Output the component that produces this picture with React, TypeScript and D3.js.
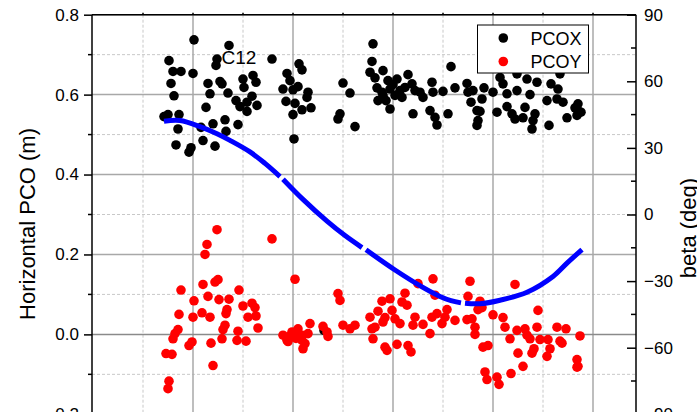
import React, { useEffect, useRef } from "react";
import * as d3 from "d3";

// PCOX samples: [time, pco (m)]
const pcoxPoints: [number, number][] = [
  [1, 0.737], [36, 0.723], [-24, 0.685], [24, 0.689], [23, 0.673], [79, 0.689], [-20, 0.658], [-12, 0.658],
  [0, 0.653], [-22, 0.628], [15, 0.628], [27, 0.633], [29, 0.627], [35, 0.604], [17, 0.602], [-19, 0.597],
  [50, 0.639], [60, 0.648], [63, 0.631], [51, 0.618], [59, 0.596], [43, 0.585], [47, 0.57], [54, 0.581],
  [64, 0.573], [54, 0.558], [13, 0.568], [-25, 0.55], [-29, 0.545], [-14, 0.55], [32, 0.537], [20, 0.527],
  [8, 0.518], [33, 0.508], [45, 0.525], [-15, 0.514], [10, 0.485], [-17, 0.474], [-2, 0.467], [22, 0.471],
  [-4, 0.456], [94, 0.653], [97, 0.635], [90, 0.614], [100, 0.612], [93, 0.583], [102, 0.578], [100, 0.55],
  [101, 0.489], [106, 0.677], [180, 0.727], [179, 0.683], [190, 0.66], [177, 0.656], [182, 0.642], [109, 0.662],
  [150, 0.629], [157, 0.604], [145, 0.539], [147, 0.552], [162, 0.52], [105, 0.62], [115, 0.606], [114, 0.593],
  [109, 0.562], [118, 0.567], [184, 0.617], [195, 0.635], [204, 0.639], [215, 0.65], [219, 0.627], [189, 0.606],
  [197, 0.614], [202, 0.598], [209, 0.593], [185, 0.585], [190, 0.598], [197, 0.564], [212, 0.618], [222, 0.61],
  [227, 0.606], [230, 0.593], [239, 0.631], [240, 0.606], [250, 0.608], [220, 0.552], [237, 0.56], [242, 0.543],
  [244, 0.524], [255, 0.552], [258, 0.67], [200, 0.625], [207, 0.61], [193, 0.585], [262, 0.617], [274, 0.628],
  [275, 0.606], [278, 0.581], [280, 0.61], [284, 0.56], [287, 0.558], [285, 0.535], [284, 0.523], [289, 0.589],
  [291, 0.617], [300, 0.606], [304, 0.556], [307, 0.643], [310, 0.627], [314, 0.602], [314, 0.57], [319, 0.552],
  [322, 0.539], [324, 0.61], [324, 0.652], [334, 0.639], [332, 0.568], [330, 0.542], [337, 0.6], [344, 0.631],
  [342, 0.552], [340, 0.535], [339, 0.514], [356, 0.523], [354, 0.585], [358, 0.627], [367, 0.652], [365, 0.614],
  [364, 0.589], [370, 0.581], [374, 0.542], [385, 0.577], [385, 0.56], [388, 0.556], [384, 0.548], [382, 0.567],
  [131, 0.01],
];

// PCOY samples: [time, pco (m)]
const pcoyPoints: [number, number][] = [
  [24, 0.262], [14, 0.225], [12, 0.2], [79, 0.239], [102, 0.138], [25, 0.137], [22, 0.131], [10, 0.125],
  [-12, 0.111], [46, 0.111], [15, 0.095], [1, 0.084], [26, 0.087], [36, 0.088], [59, 0.078], [50, 0.071],
  [62, 0.067], [34, 0.062], [33, 0.052], [-14, 0.05], [9, 0.054], [0, 0.043], [17, 0.043], [55, 0.043],
  [63, 0.046], [32, 0.023], [65, 0.016], [30, 0.012], [45, 0.008], [-15, 0.012], [-18, 0.002], [-20, -0.011],
  [29, -0.011], [44, -0.015], [53, -0.017], [-1, -0.019], [-4, -0.028], [18, -0.022], [-27, -0.048], [-21, -0.05],
  [20, -0.078], [-24, -0.117], [-25, -0.136], [90, -0.002], [94, -0.015], [102, 0.002], [99, 0.006], [105, 0.014],
  [109, -0.002], [112, -0.023], [110, -0.036], [117, 0.027], [97, -0.004], [95, -0.018], [103, -0.01], [130, 0.02],
  [134, 0.006], [135, -0.005], [145, 0.102], [147, 0.085], [150, 0.023], [157, 0.014], [162, 0.023], [109, -0.015],
  [115, 0.002], [240, 0.139], [225, 0.127], [212, 0.103], [209, 0.081], [214, 0.073], [197, 0.089], [189, 0.083],
  [185, 0.058], [199, 0.06], [177, 0.043], [192, 0.042], [202, 0.039], [207, 0.027], [182, 0.018], [179, 0.014],
  [190, 0.031], [180, -0.011], [192, -0.032], [194, -0.04], [204, -0.025], [215, -0.028], [218, -0.044], [222, 0.043],
  [220, 0.023], [230, 0.025], [237, 0.002], [239, 0.043], [244, 0.052], [249, 0.027], [254, 0.062], [252, 0.043],
  [242, 0.098], [277, 0.133], [275, 0.095], [287, 0.083], [322, 0.125], [262, 0.035], [274, 0.037], [279, 0.039],
  [285, 0.062], [289, 0.067], [300, 0.049], [282, 0.018], [282, 0], [310, 0.042], [312, 0.018], [324, 0.01],
  [317, -0.011], [332, 0.014], [334, -0.002], [337, -0.011], [345, 0.06], [344, 0.018], [347, -0.013], [355, -0.013],
  [364, 0.018], [373, 0.014], [367, -0.017], [369, -0.022], [387, -0.004], [290, -0.032], [295, -0.028], [325, -0.047],
  [339, -0.047], [341, -0.036], [357, -0.036], [354, -0.055], [384, -0.063], [384, -0.082], [385, -0.08], [330, -0.08],
  [318, -0.098], [292, -0.094], [294, -0.113], [304, -0.107], [306, -0.125],
];

// beta angle (deg), null marks a data gap
const betaTime = [-29, -13, 7, 24, 37, 57, 72, 87, 88, 90, 110, 134, 152, 169, 171, 173, 202, 229, 247, 258, 268, 270, 272, 287, 307, 334, 360, 374, 389];
const betaDeg: (number | null)[] = [42.0, 42.3, 39.6, 36.4, 33.4, 28.2, 23.0, 17.1, null, 15.9, 6.8, -3.0, -9.5, -14.9, null, -15.9, -25.0, -32.6, -36.9, -38.8, -39.8, null, -40.0, -40.2, -38.6, -35.0, -27.9, -21.9, -15.8];

const leftTicks = [-0.2, 0.0, 0.2, 0.4, 0.6, 0.8];
const leftMinor = [-0.1, 0.1, 0.3, 0.5, 0.7];
const rightTicks = [-90, -60, -30, 0, 30, 60, 90];
const rightMinor = [-75, -45, -15, 15, 45, 75];
const timeTicks = [0, 100, 200, 300, 400];
const timeMinor = [-50, 50, 150, 250, 350];

const seriesNames = ["PCOX", "PCOY"];
const seriesColors = ["#000000", "#ff0000"];

export default function App() {
  const svgRef = useRef<SVGSVGElement>(null);

  useEffect(() => {
    const svg = d3.select(svgRef.current);
    svg.selectAll("*").remove();

    const font = "'Liberation Sans', Arial, sans-serif";
    const left = 92, right = 636, top = 14.7, bottom = 414.3;

    const x = d3.scaleLinear().domain([-101, 443]).range([left, right]);
    const y = d3.scaleLinear().domain([-0.2, 0.8]).range([bottom, top]);
    const yb = d3.scaleLinear().domain([-90, 90]).range([bottom, top]);

    // grid
    const grid = svg.append("g");
    timeMinor.forEach((t) =>
      grid.append("line").attr("x1", x(t)).attr("x2", x(t)).attr("y1", top).attr("y2", bottom)
        .attr("stroke", "#c8c8c8").attr("stroke-dasharray", "3,2").attr("stroke-width", 1));
    leftMinor.forEach((v) =>
      grid.append("line").attr("x1", left).attr("x2", right).attr("y1", y(v)).attr("y2", y(v))
        .attr("stroke", "#c8c8c8").attr("stroke-dasharray", "3,2").attr("stroke-width", 1));
    timeTicks.forEach((t) =>
      grid.append("line").attr("x1", x(t)).attr("x2", x(t)).attr("y1", top).attr("y2", bottom)
        .attr("stroke", "#a8a8a8").attr("stroke-width", 1.5));
    leftTicks.forEach((v) =>
      grid.append("line").attr("x1", left).attr("x2", right).attr("y1", y(v)).attr("y2", y(v))
        .attr("stroke", v === 0 ? "#8a8a8a" : "#a8a8a8").attr("stroke-width", 1.5));

    // scatter
    const pts = svg.append("g");
    pts.selectAll("circle.px").data(pcoxPoints).enter().append("circle")
      .attr("cx", (d) => x(d[0])).attr("cy", (d) => y(d[1])).attr("r", 4.8).attr("fill", seriesColors[0]);
    pts.selectAll("circle.py").data(pcoyPoints).enter().append("circle")
      .attr("cx", (d) => x(d[0])).attr("cy", (d) => y(d[1])).attr("r", 4.8).attr("fill", seriesColors[1]);

    // beta line
    const betaData = betaTime.map((t, i) => ({ t, b: betaDeg[i] }));
    const line = d3.line<{ t: number; b: number | null }>()
      .defined((d) => d.b !== null)
      .x((d) => x(d.t))
      .y((d) => yb(d.b as number))
      .curve(d3.curveCatmullRom.alpha(0.5));
    svg.append("path").datum(betaData).attr("d", line).attr("fill", "none")
      .attr("stroke", "#0000ff").attr("stroke-width", 5);

    // frame
    svg.append("line").attr("x1", left).attr("x2", right).attr("y1", top).attr("y2", top).attr("stroke", "#000").attr("stroke-width", 1.5);
    svg.append("line").attr("x1", left).attr("x2", left).attr("y1", top).attr("y2", bottom).attr("stroke", "#000").attr("stroke-width", 1.5);
    svg.append("line").attr("x1", right).attr("x2", right).attr("y1", top).attr("y2", bottom).attr("stroke", "#000").attr("stroke-width", 1.5);
    svg.append("line").attr("x1", left).attr("x2", right).attr("y1", bottom).attr("y2", bottom).attr("stroke", "#000").attr("stroke-width", 1.5);

    // left axis
    const la = svg.append("g").attr("transform", `translate(${left},0)`);
    la.call(d3.axisLeft(y).tickValues(leftTicks).tickSize(8).tickSizeOuter(0).tickFormat(d3.format(".1f")));
    la.select(".domain").remove();
    la.selectAll("line").attr("stroke", "#000").attr("stroke-width", 1.5);
    la.selectAll("text").attr("font-family", font).attr("font-size", 17).attr("fill", "#000").attr("x", -13);
    leftMinor.forEach((v) =>
      la.append("line").attr("x1", -4).attr("x2", 0).attr("y1", y(v)).attr("y2", y(v)).attr("stroke", "#000").attr("stroke-width", 1.5));

    // right axis (ticks inward)
    const ra = svg.append("g").attr("transform", `translate(${right},0)`);
    ra.call(d3.axisRight(yb).tickValues(rightTicks).tickSize(-9).tickSizeOuter(0).tickFormat(d3.format("d")));
    ra.select(".domain").remove();
    ra.selectAll("line").attr("stroke", "#000").attr("stroke-width", 1.5);
    ra.selectAll("text").attr("font-family", font).attr("font-size", 17).attr("fill", "#000").attr("x", 8);
    rightMinor.forEach((v) =>
      ra.append("line").attr("x1", -5).attr("x2", 0).attr("y1", yb(v)).attr("y2", yb(v)).attr("stroke", "#000").attr("stroke-width", 1.5));

    // top ticks
    [...timeTicks, ...timeMinor].forEach((t) =>
      svg.append("line").attr("x1", x(t)).attr("x2", x(t)).attr("y1", top).attr("y2", top - 2).attr("stroke", "#000").attr("stroke-width", 1.5));

    // labels
    svg.append("text").attr("transform", "translate(35,224) rotate(-90)").attr("text-anchor", "middle")
      .attr("font-family", font).attr("font-size", 22).text("Horizontal PCO (m)");
    svg.append("text").attr("transform", "translate(696,228) rotate(-90)").attr("text-anchor", "middle")
      .attr("font-family", font).attr("font-size", 22).text("beta (deg)");
    svg.append("text").attr("x", 221.5).attr("y", 63.5).attr("font-family", font).attr("font-size", 19).text("C12");

    // legend
    const lg = svg.append("g");
    lg.append("rect").attr("x", 477.5).attr("y", 25).attr("width", 111).attr("height", 48)
      .attr("fill", "#fff").attr("stroke", "#000").attr("stroke-width", 1);
    seriesNames.forEach((n, i) => {
      lg.append("circle").attr("cx", 503.3).attr("cy", 38 + i * 23.5).attr("r", 4.8).attr("fill", seriesColors[i]);
      lg.append("text").attr("x", 530.5).attr("y", 44.5 + i * 23.5).attr("font-family", font).attr("font-size", 18).text(n);
    });
  }, []);

  return (
    <div style={{ position: "fixed", left: 0, top: 0, width: 697, height: 412, overflow: "hidden", background: "#fff" }}>
      <svg ref={svgRef} width={697} height={470} style={{ display: "block" }}></svg>
    </div>
  );
}
